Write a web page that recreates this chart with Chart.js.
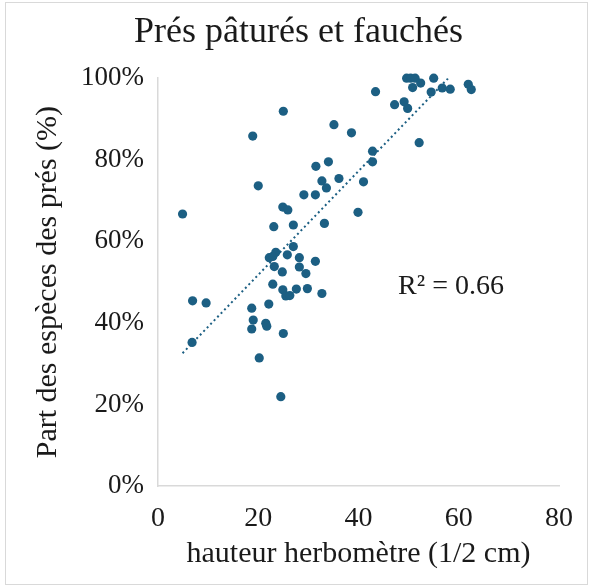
<!DOCTYPE html>
<html>
<head>
<meta charset="utf-8">
<script src="https://cdn.jsdelivr.net/npm/chart.js@4.4.1/dist/chart.umd.min.js"></script>
<style>
  html, body { margin: 0; padding: 0; background: #fff; }
  #wrap { position: relative; width: 589px; height: 586px; }
  #frame { position: absolute; left: 5px; top: 2px; width: 581px; height: 581px; border: 1px solid #d9d9d9; pointer-events: none; }
</style>
</head>
<body>
<div id="wrap">
  <canvas id="graphique" width="589" height="586"></canvas>
  <div id="frame"></div>
</div>
<script>
// valeurs
const hauteur = [
  49.6, 50.4, 51.3, 55.0, 52.4, 50.8, 43.4, 54.5, 56.7, 58.3, 61.9, 62.5,
  47.2, 49.1, 49.8, 52.1, 42.8, 42.8, 39.9, 41.0, 38.6, 35.1, 34.0, 31.5,
  32.7, 36.1, 33.6, 29.1, 31.4, 25.0, 18.9, 20.0, 24.9, 25.9, 33.2, 23.1,
  27.0, 27.0, 23.5, 22.2, 22.9, 25.8, 28.2, 31.4, 23.2, 28.2, 24.8, 29.5,
  22.9, 24.9, 27.6, 29.8, 25.5, 26.3, 32.7, 6.9, 9.6, 22.1, 18.7, 19.0,
  18.7, 21.5, 21.7, 25.0, 6.8, 20.2, 24.5, 4.9
];
const partPres = [
  100, 100, 100, 100, 98.8, 97.7, 96.7, 96.6, 97.6, 97.3, 98.5, 97.2,
  93.5, 94.2, 92.6, 84.2, 82.1, 79.5, 67.1, 74.6, 86.6, 88.6, 79.5, 78.4,
  74.8, 75.4, 73.1, 71.4, 71.4, 91.9, 85.8, 73.6, 68.4, 67.7, 64.4, 63.6,
  64.0, 58.7, 57.3, 56.0, 56.3, 56.7, 56.0, 55.1, 53.8, 53.7, 52.5, 52.1,
  49.5, 48.1, 48.3, 48.4, 46.6, 46.7, 47.2, 45.4, 44.9, 44.6, 43.6, 40.7,
  38.5, 39.9, 39.2, 37.4, 35.2, 31.4, 21.9, 66.7
];
const ticksX = [0, 20, 40, 60, 80];
const ticksY = [0, 20, 40, 60, 80, 100];
const texteR2 = 'R\u00B2 = 0.66';
const posR2 = [47.9, 47.1];

const police = 'Liberation Serif';
const bleu = '#1c5f83';

// droite de tendance (moindres carrés)
function tendance(xs, ys) {
  const n = xs.length;
  const mx = xs.reduce((a, b) => a + b, 0) / n;
  const my = ys.reduce((a, b) => a + b, 0) / n;
  let sxy = 0, sxx = 0;
  xs.forEach((x, i) => { sxy += (x - mx) * (ys[i] - my); sxx += (x - mx) * (x - mx); });
  const a = sxy / sxx;
  const b = my - a * mx;
  const x0 = Math.min(...xs), x1 = Math.max(...xs);
  return [{ x: x0, y: a * x0 + b }, { x: x1, y: a * x1 + b }];
}

const points = hauteur.map((x, i) => ({ x, y: partPres[i] }));

const etiquetteR2 = {
  id: 'etiquetteR2',
  afterDatasetsDraw(chart) {
    const ctx = chart.ctx;
    const px = chart.scales.x.getPixelForValue(posR2[0]);
    const py = chart.scales.y.getPixelForValue(posR2[1]);
    ctx.save();
    ctx.font = '28px "' + police + '"';
    ctx.fillStyle = '#1a1a1a';
    ctx.textBaseline = 'alphabetic';
    ctx.fillText(texteR2, px, py);
    ctx.restore();
  }
};

new Chart(document.getElementById('graphique'), {
  type: 'scatter',
  data: {
    datasets: [
      {
        label: 'Prés',
        data: points,
        backgroundColor: bleu,
        borderColor: bleu,
        pointRadius: 4.6,
        pointBorderWidth: 0,
        clip: false,
        order: 0
      },
      {
        label: 'Tendance',
        type: 'line',
        data: tendance(hauteur, partPres),
        borderColor: bleu,
        borderWidth: 2,
        borderDash: [2, 3],
        pointRadius: 0,
        fill: false,
        order: 1
      }
    ]
  },
  plugins: [etiquetteR2],
  options: {
    responsive: false,
    animation: false,
    layout: { padding: { left: 30, right: 22, top: 4, bottom: 10 } },
    plugins: {
      legend: { display: false },
      tooltip: { enabled: false },
      title: {
        display: true,
        text: 'Prés pâturés et fauchés',
        color: '#1a1a1a',
        font: { family: police, size: 36, weight: 'normal' },
        padding: { top: 7, bottom: 24 }
      }
    },
    scales: {
      x: {
        type: 'linear',
        min: 0,
        max: 80,
        afterBuildTicks: (s) => { s.ticks = ticksX.map(v => ({ value: v })); },
        afterFit: (s) => { s.height = 90; },
        grid: { display: false, drawTicks: false },
        border: { display: true, color: '#d9d9d9', width: 1.5 },
        ticks: { color: '#1a1a1a', padding: 16, font: { family: police, size: 28 } },
        title: {
          display: true,
          text: 'hauteur herbomètre (1/2 cm)',
          color: '#1a1a1a',
          font: { family: police, size: 30 },
          padding: { top: 0, bottom: 4 }
        }
      },
      y: {
        min: 0,
        max: 100,
        afterBuildTicks: (s) => { s.ticks = ticksY.map(v => ({ value: v })); },
        afterFit: (s) => { s.width = 128; },
        grid: { display: false, drawTicks: false },
        border: { display: true, color: '#d9d9d9', width: 1.5 },
        ticks: {
          color: '#1a1a1a',
          padding: 14,
          font: { family: police, size: 27 },
          callback: (v) => v + '%'
        },
        title: {
          display: true,
          text: 'Part des espèces des prés (%)',
          color: '#1a1a1a',
          font: { family: police, size: 30 },
          padding: { top: 0, bottom: 0 }
        }
      }
    }
  }
});
</script>
</body>
</html>
